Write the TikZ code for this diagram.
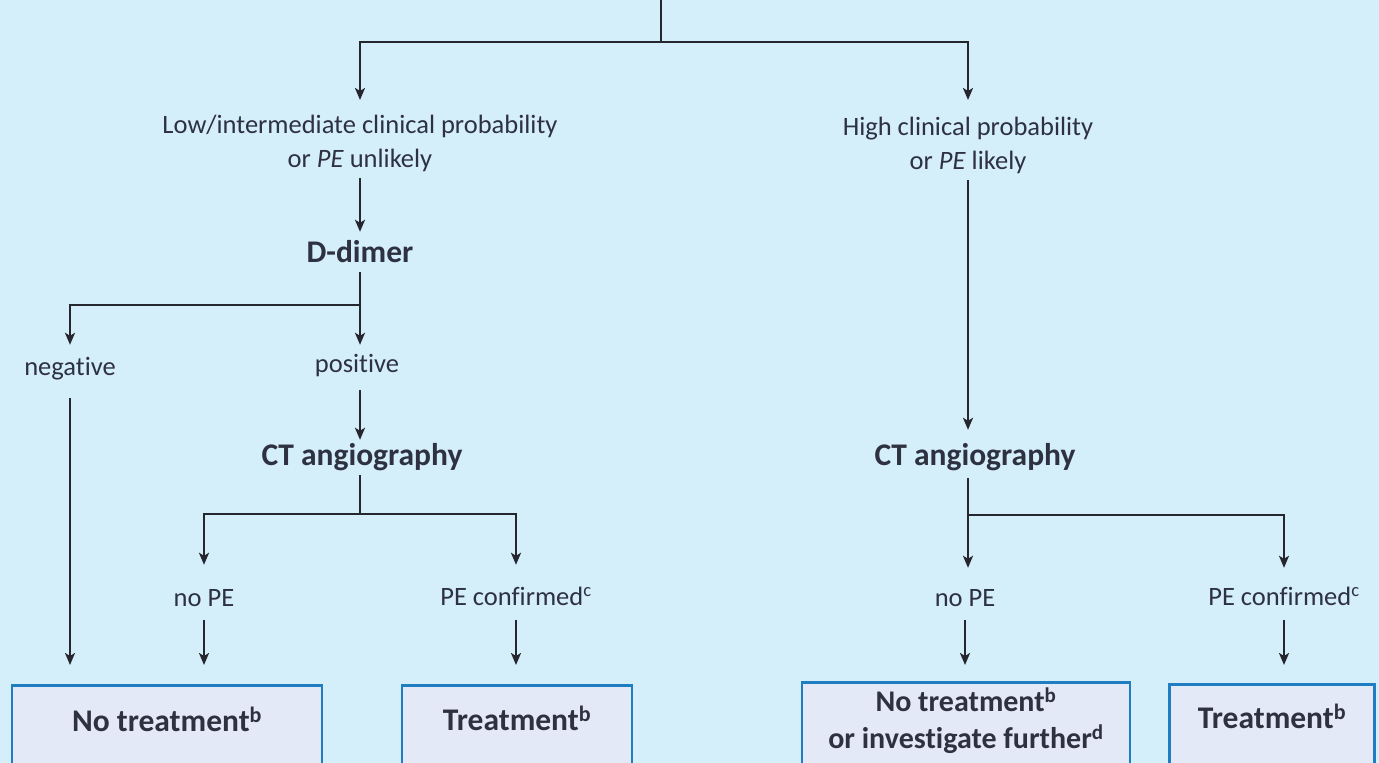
\documentclass[tikz,border=0pt]{standalone}
\usepackage{fontspec}
\setmainfont{Carlito}[Ligatures={NoCommon}]
\usetikzlibrary{arrows.meta}
\definecolor{bg}{HTML}{D4EEFA}
\definecolor{boxfill}{HTML}{E3E9F6}
\definecolor{boxline}{HTML}{1F7DC2}
\definecolor{ink}{HTML}{2E3140}
\definecolor{wireink}{HTML}{26272E}
\begin{document}
\begin{tikzpicture}[x=1pt,y=-1pt,
  lbl/.style={font=\fontsize{26.5}{34}\selectfont, text=ink, inner sep=0pt, text height=18pt, text depth=6.5pt, align=center},
  hd/.style={font=\bfseries\fontsize{31.5}{34}\selectfont, text=ink, inner sep=0pt, text height=21pt, text depth=7pt, align=center},
  endbox/.style={draw=boxline, line width=2.5pt, fill=boxfill, anchor=north, inner sep=0pt, font=\bfseries\fontsize{31.5}{37}\selectfont, text=ink, align=center, text depth=60pt},
  wire/.style={draw=wireink, line width=2.2pt},
  arr/.style={wire, -{Stealth[length=12pt,width=10pt,inset=3pt]}}]
\useasboundingbox (0,0) rectangle (1379,763);
\clip (0,0) rectangle (1379,763);
\fill[bg] (0,0) rectangle (1379,763);

% junctions
\coordinate (top) at (661,0);
\coordinate (j1) at (661,42);
\coordinate (j2) at (360,305);
\coordinate (j3) at (360,514);
\coordinate (j4) at (968,515);

% text nodes
\node[lbl, anchor=north, text height=52pt] (low) at (360,115) {Low/intermediate clinical probability\\or \textit{PE} unlikely};
\node[lbl, anchor=north, text height=52pt] (high) at (968,117) {High clinical probability\\or \textit{PE} likely};
\node[hd] (dd) at (360,255) {D-dimer};
\node[lbl] (neg) at (70,370) {negative};
\node[lbl] (pos) at (357,367) {positive};
\node[hd] (ct1) at (362,458) {CT angiography};
\node[hd] (ct2) at (975,458) {CT angiography};
\node[lbl] (nope1) at (204,601) {no PE};
\node[lbl] (conf1) at (516,600) {PE confirmed\textsuperscript{c}};
\node[lbl] (nope2) at (965,601) {no PE};
\node[lbl] (conf2) at (1284,600) {PE confirmed\textsuperscript{c}};

% boxes
\node[endbox, minimum width=310pt, text height=46pt] (box1) at (167,684) {No treatment\textsuperscript{b}};
\node[endbox, minimum width=230pt, text height=45pt] (box2) at (517,684) {Treatment\textsuperscript{b}};
\node[endbox, minimum width=328pt, text height=66pt, text depth=40pt, font=\bfseries\fontsize{30}{37}\selectfont] (box3) at (966,681) {No treatment\textsuperscript{b}\\or investigate further\textsuperscript{d}};
\node[endbox, minimum width=205pt, text height=44pt] (box4) at (1272,683) {Treatment\textsuperscript{b}};

% connectors
\draw[wire] (top) -- (j1);
\draw[arr, shorten >=15pt] (j1) -| (low.north);
\draw[arr, shorten >=17pt] (j1) -| (high.north);
\draw[arr, shorten <=4.5pt, shorten >=9pt] (low.south) -- (dd.north);
\draw[wire, shorten <=3pt] (dd.south) -- (j2);
\draw[arr, shorten >=12.75pt] (j2) -| (neg.north);
\draw[arr, shorten >=9.75pt] (j2) -- (j2 |- pos.north);
\draw[arr, shorten <=15.75pt, shorten >=19pt] (neg.south) -- (neg.south |- box1.north);
\draw[arr, shorten <=10.75pt, shorten >=4pt] (j2 |- pos.south) -- (j2 |- ct1.north);
\draw[wire, shorten <=3pt] (j3 |- ct1.south) -- (j3);
\draw[arr, shorten >=23.75pt] (j3) -| (nope1.north);
\draw[arr, shorten >=22.75pt] (j3) -| (conf1.north);
\draw[arr, shorten <=6.75pt, shorten >=19pt] (nope1.south) -- (nope1.south |- box1.north);
\draw[arr, shorten <=7.75pt, shorten >=19pt] (conf1.south) -- (conf1.south |- box2.north);

\draw[arr, shorten <=4.5pt, shorten >=14pt] (high.south) -- (high.south |- ct2.north);
\draw[wire, shorten <=6pt] (j4 |- ct2.south) -- (j4);
\draw[arr, shorten >=20.75pt] (j4) -- (j4 |- nope2.north);
\draw[arr, shorten >=19.75pt] (j4) -| (conf2.north);
\draw[arr, shorten <=6.75pt, shorten >=16pt] (nope2.south) -- (nope2.south |- box3.north);
\draw[arr, shorten <=7.75pt, shorten >=18pt] (conf2.south) -- (conf2.south |- box4.north);
\end{tikzpicture}
\end{document}
